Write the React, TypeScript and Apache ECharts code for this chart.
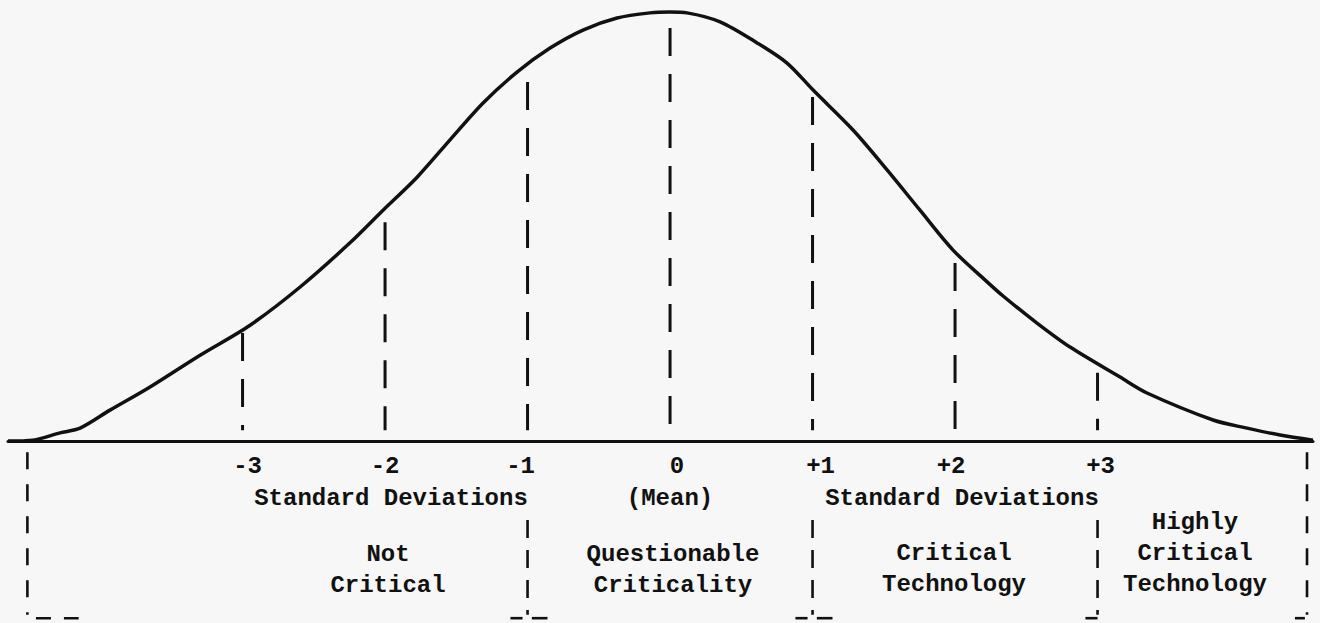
import React, { useEffect, useRef } from "react";
import * as echarts from "echarts";

// Standard-deviation markers along the baseline
const sdValues = [-3, -2, -1, 0, 1, 2, 3];
const sdLabels = ["-3", "-2", "-1", "0", "+1", "+2", "+3"];
// Height (percent of peak) where each dashed marker starts, just under the curve
const sdLineTops = [25.2, 51.0, 83.7, 96.3, 80.2, 41.5, 15.9];

// Bell curve: x in standard deviations, y in percent of peak
const curveX = [
  -4.646, -4.47, -4.281, -4.14, -3.93, -3.649, -3.298, -2.947, -2.596, -2.246, -2.014, -1.775,
  -1.544, -1.312, -1.074, -0.842, -0.611, -0.372, -0.14, 0, 0.119, 0.351, 0.611, 0.821, 1.004,
  1.284, 1.523, 1.754, 1.986, 2.225, 2.337, 2.575, 2.807, 3.158, 3.347, 3.811, 4.049, 4.281, 4.512,
];
const curveY = [
  0, 0.2, 1.9, 3.0, 7.2, 12.6, 20.0, 27.0, 35.9, 46.2, 53.8, 61.5,
  70.2, 78.8, 86.0, 91.6, 95.8, 98.6, 99.8, 100, 99.8, 97.7, 92.8, 88.1, 81.8,
  72.5, 63.2, 53.8, 44.5, 37.1, 33.8, 27.5, 21.9, 14.9, 11.2, 4.9, 3.0, 1.4, 0.2,
];

// Criticality regions and their boundaries (in standard deviations)
const regionNames = ["Not\nCritical", "Questionable\nCriticality", "Critical\nTechnology", "Highly\nCritical\nTechnology"];
const regionBounds = [-4.51, -1, 1, 3, 4.47];

// Axis captions
const axisCaptions = ["Standard Deviations", "(Mean)", "Standard Deviations"];

const INK = "#111111";
const FONT = "'Liberation Mono', 'Courier New', monospace";

export default function App() {
  const ref = useRef<HTMLDivElement>(null);

  useEffect(() => {
    if (!ref.current) return;
    const chart = echarts.init(ref.current, undefined, { renderer: "svg" });

    const series: any[] = [];

    series.push({
      type: "line",
      name: "curve",
      data: curveX.map((x, i) => [x, curveY[i]]),
      smooth: 0.3,
      showSymbol: false,
      clip: false,
      lineStyle: { color: INK, width: 3.5 },
      z: 5,
    });

    sdValues.forEach((v, i) => {
      series.push({
        type: "line",
        name: "sd" + i,
        data: [
          [v, sdLineTops[i]],
          [v, 2.5],
        ],
        showSymbol: false,
        lineStyle: { color: INK, width: 3, type: [28, 18] },
      });
    });

    const bottomH = -41.3;
    const endTop = -2.6;
    const innerTop = -18.4;
    regionBounds.forEach((b, i) => {
      const isEnd = i === 0 || i === regionBounds.length - 1;
      const top = isEnd ? endTop : innerTop;
      series.push({
        type: "line",
        name: "bracket" + i,
        data: [
          [b, top],
          [b, bottomH + 0.8],
        ],
        showSymbol: false,
        lineStyle: { color: INK, width: 2.6, type: isEnd ? [17, 15] : [18, 12] },
      });
      // short bracket feet
      const feet: number[][] = [];
      if (i === 0) feet.push([b + 0.06, b + 0.36]);
      else if (i === regionBounds.length - 1) feet.push([b - 0.085, b - 0.015]);
      else if (i === 3) feet.push([b - 0.085, b]);
      else {
        feet.push([b - 0.12, b - 0.035]);
        feet.push([b + 0.03, b + 0.14]);
      }
      feet.forEach((f, k) => {
        series.push({
          type: "line",
          name: "foot" + i + "_" + k,
          data: [
            [f[0], bottomH],
            [f[1], bottomH],
          ],
          showSymbol: false,
          lineStyle: { color: INK, width: 2.6, type: i === 0 ? [15, 13] : "solid" },
        });
      });
    });

    const textEl = (x: number, y: number, text: string) => ({
      type: "text",
      x,
      y,
      style: {
        text,
        fill: INK,
        font: `bold 24px ${FONT}`,
        textAlign: "center",
        textVerticalAlign: "middle",
        lineHeight: 31,
      },
    });

    const captionPos = [
      [391, 498],
      [670, 498],
      [962, 498],
    ];
    const regionPos = [
      [388, 570],
      [673, 570],
      [954, 569],
      [1195, 553],
    ];
    // small horizontal nudges of the typed tick labels relative to their marker lines
    const labelNudge = [5, 0, -7, 7, 8, -4, 3];

    chart.setOption({
      animation: false,
      backgroundColor: "#f7f7f7",
      grid: { left: 8, right: 7, top: 0, bottom: 0, containLabel: false, outerBoundsMode: "none" },
      xAxis: {
        type: "value",
        min: -4.646,
        max: 4.512,
        splitLine: { show: false },
        axisTick: { show: false },
        axisLabel: { show: false },
        axisLine: { show: true, onZero: true, lineStyle: { color: INK, width: 3 } },
      },
      yAxis: {
        type: "value",
        min: -42.42,
        max: 102.8,
        show: false,
        splitLine: { show: false },
      },
      series,
    });

    const graphics: any[] = [];
    sdValues.forEach((v, i) => {
      const p = chart.convertToPixel({ gridIndex: 0 }, [v, 0]) as number[];
      graphics.push(textEl(p[0] + labelNudge[i], p[1] + 25, sdLabels[i]));
    });
    axisCaptions.forEach((t, i) => graphics.push(textEl(captionPos[i][0], captionPos[i][1], t)));
    regionNames.forEach((t, i) => graphics.push(textEl(regionPos[i][0], regionPos[i][1], t)));
    chart.setOption({ graphic: graphics });

    return () => chart.dispose();
  }, []);

  return (
    <div
      ref={ref}
      style={{ position: "fixed", left: 0, top: 0, width: 1320, height: 623 }}
    />
  );
}
